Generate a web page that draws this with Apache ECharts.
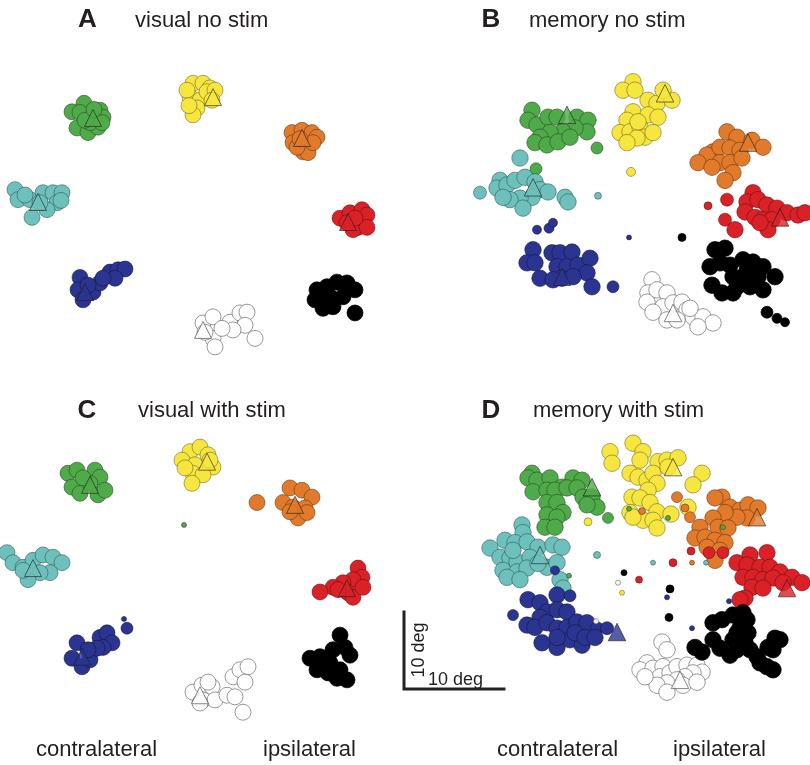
<!DOCTYPE html>
<html><head><meta charset="utf-8">
<script src="https://cdn.jsdelivr.net/npm/echarts@6/dist/echarts.min.js"></script>
<style>html,body{margin:0;padding:0;background:#fff}#c{width:810px;height:765px}</style>
</head><body><div id="c"></div><script>
// Data in degrees: [x, y, optional marker size]
const colorKeys = ['green','yellow','orange','cyan','red','blue','white','black'];

const A_green = [[-11.6,10.6],[-12.8,9.5],[-12.3,7.4],[-11.2,6.8],[-10.0,9.7],[-9.7,8.8],[-10.2,7.5],[-11.0,8.1],[-12.0,9.4],[-11.5,8.4],[-9.8,8.1],[-10.6,9.8]];
const A_yellow = [[-0.7,13.2],[0.3,13.2],[1.0,12.6],[-1.0,11.4],[0,11.0],[-0.3,10.0],[-0.7,9.1],[0.7,12.1],[-1.3,12.3],[1.5,12.3],[1.2,11.0],[-1.1,10.3]];
const A_orange = [[9.2,6.8],[10.2,7.1],[11.2,6.8],[11.7,6.2],[9.3,5.5],[10.3,4.3],[10.8,4.2],[9.7,4.9],[11.3,5.5],[10.0,6.0]];
const A_cyan = [[-18.5,-0.6],[-18.2,-1.9],[-17.0,-1.9],[-15.7,-1.0],[-14.7,-1.0],[-13.8,-1.0],[-14.3,-2.3],[-15.3,-3.2],[-16.8,-4.2],[-16.0,-2.3],[-17.5,-1.3],[-13.9,-2.0]];
const A_red = [[14.0,-4.3],[15.0,-3.6],[16.2,-3.2],[16.7,-3.9],[15.8,-5.5],[15.3,-5.8],[16.7,-5.5],[14.7,-4.9],[15.5,-4.3]];
const A_blue = [[-12.0,-12.0],[-12.2,-13.6],[-11.7,-14.9],[-10.7,-13.9],[-10.0,-12.7],[-9.0,-11.3],[-8.2,-11.0],[-7.5,-10.9],[-8.5,-12.1],[-9.7,-12.1],[-11.2,-13.0]];
const A_white = [[0.3,-17.9],[1.3,-17.1],[3.0,-17.8],[4.0,-16.6],[4.7,-16.5],[4.5,-18.2],[3.3,-18.8],[1.3,-19.9],[1.5,-21.0],[5.5,-19.9],[0.5,-19.1],[2.2,-18.6]];
const A_black = [[11.7,-13.6],[12.7,-13.2],[13.7,-12.6],[14.7,-12.7],[15.5,-13.6],[11.5,-14.9],[12.3,-16.0],[13.3,-15.8],[14.3,-14.5],[15.5,-16.6],[13.0,-14.5]];
const A_targets = [[-10.7,8.7],[1.3,11.4],[10.2,6.1],[-16.2,-2.2],[14.8,-4.8],[-11.5,-13.9],[0.3,-18.8],[13.2,-14.2]];

const B_green = [[-7.1,9.7],[-7.5,8.4],[-6.6,7.8],[-5.5,8.8],[-4.6,8.8],[-2.6,8.8],[-1.5,8.4],[-1.6,6.9],[-2.8,7.4],[-4.0,6.9],[-5.3,6.8],[-6.3,6.2],[-6.8,5.5],[-5.6,5.2],[-4.5,5.6],[-3.3,6.2],[-0.6,4.8,12],[-6.7,2.1,12]];
const B_yellow = [[3.0,13.4],[2.0,12.3],[3.2,12.3],[4.5,11.0],[5.4,10.6],[6.9,11.0],[6.0,12.3],[3.0,9.5],[2.4,8.4],[1.7,6.8],[2.7,6.9],[3.7,7.5],[4.5,9.1],[5.5,8.8],[4.2,6.2],[5.0,6.8],[3.4,6.1],[2.4,5.5],[3.5,8.2],[2.8,1.7,9]];
const B_orange = [[12.4,6.9],[13.4,6.2],[11.0,4.3],[10.4,3.9],[9.5,2.9],[11.7,4.9],[12.7,4.8],[13.7,4.5],[14.9,5.8],[16.0,4.9],[11.7,2.9],[12.7,2.9],[13.9,3.5],[13.0,1.6],[12.2,0.6],[10.9,2.3]];
const B_cyan = [[-12.3,-1.0,13],[-8.3,3.5],[-10.3,0.6],[-10.6,-0.4],[-9.6,0],[-8.8,0.6],[-7.8,1.0],[-6.8,0.4],[-6.3,-0.6],[-5.5,-0.9],[-7.1,-1.6],[-8.3,-1.7],[-9.3,-1.9],[-10.0,-1.6],[-8.0,-3.0],[-3.8,-1.6],[-3.5,-2.2],[-0.5,-1.4,7]];
const B_red = [[15.0,-1.0],[14.4,-2.2],[15.5,-1.9],[16.4,-2.6],[17.4,-3.0],[18.4,-3.6],[19.5,-3.9],[20.2,-3.6],[14.2,-3.5],[15.2,-4.2],[16.0,-4.5],[16.9,-4.5],[16.5,-5.8],[15.7,-4.9],[12.4,-1.9,13],[12.2,-4.5,13],[13.2,-5.8],[10.5,-2.7,8]];
const B_blue = [[-5.0,-4.9,9],[-5.4,-5.6,10],[-6.6,-5.8,9],[-7.0,-8.4],[-7.6,-10.1],[-6.8,-10.1],[-6.3,-12.1],[-5.1,-8.8],[-4.3,-8.8],[-3.1,-8.7],[-4.6,-10.6],[-3.6,-10.6],[-2.5,-10.4],[-1.3,-9.5],[-1.6,-11.4],[-1.1,-13.2],[-4.1,-12.1],[-5.0,-12.3],[-3.0,-11.9],[1.0,-13.2,12],[2.6,-6.8,5]];
const B_white = [[4.9,-12.3],[4.5,-14.0],[4.4,-15.2],[5.4,-13.6],[6.4,-14.0],[6.0,-15.8],[5.0,-16.5],[7.0,-15.3],[7.9,-15.2],[8.4,-16.2],[9.0,-17.1],[10.0,-17.1],[11.0,-17.9],[9.5,-18.4],[6.4,-17.5],[7.4,-17.5],[8.7,-16.0]];
const B_black = [[11.2,-8.4],[12.2,-8.2],[10.7,-10.6],[11.7,-10.1],[12.7,-10.4],[14.0,-9.7],[15.0,-10.0],[16.0,-10.6],[17.2,-11.9],[13.0,-11.9],[14.4,-11.4],[15.5,-11.9],[13.4,-13.2],[14.7,-13.2],[16.0,-13.6],[10.9,-13.0],[11.9,-14.0],[13.0,-14.0],[14.0,-12.0],[15.0,-12.5],[16.4,-16.5,12],[17.4,-17.3,10],[18.2,-17.8,9],[7.9,-6.8,8]];
const B_targets = [[-3.6,9.1],[6.2,11.9],[14.5,5.5],[-7.0,-0.3],[17.7,-4.2],[-4.1,-11.9],[7.0,-16.6],[14.0,-11.0]];

const C_green = [[-13.2,13.2],[-12.3,13.6],[-10.5,13.6],[-10.0,12.7],[-12.8,11.4],[-12.0,10.6],[-11.0,11.9],[-10.2,10.4],[-9.5,11.0],[-11.7,12.6],[-1.6,6.5,5]];
const C_yellow = [[-1.0,16.0],[0,16.6],[0.8,15.6],[-1.8,14.9],[-0.5,14.3],[1.3,14.0],[-0.7,13.2],[0.3,13.0],[-0.8,11.9],[-1.5,13.9],[1.0,14.9]];
const C_orange = [[9.0,11.3],[10.2,11.0],[11.2,10.1],[8.3,9.4],[9.3,8.8],[10.5,8.7],[9.8,7.4],[10.7,8.1],[9.0,8.2],[5.7,9.4]];
const C_cyan = [[-19.3,2.9],[-18.7,1.6],[-17.7,1.0],[-16.7,1.9],[-15.7,2.6],[-14.7,2.3],[-13.8,1.6],[-15.0,0.3],[-16.0,0.3],[-17.2,-0.6],[-17.7,0.6]];
const C_red = [[15.8,0.9],[16.2,-0.3],[15.3,-0.6],[14.3,-1.0],[13.3,-1.6],[12.0,-2.2],[14.8,-2.3],[15.3,-2.9],[16.3,-1.6],[13.8,-1.9]];
const C_blue = [[-12.3,-8.8],[-12.8,-10.8],[-11.8,-11.9],[-11.0,-11.0],[-10.0,-8.1],[-9.3,-7.5],[-8.8,-8.8],[-9.7,-9.4],[-10.3,-9.5],[-11.2,-9.7],[-7.3,-6.9,12],[-7.6,-5.7,5]];
const C_white = [[-0.7,-15.2],[0.2,-14.3],[1.2,-14.5],[0.3,-16.2],[1.5,-16.2],[2.7,-15.6],[3.5,-15.8],[3.3,-13.2],[4.0,-12.3],[4.8,-11.9],[4.5,-13.9],[4.3,-17.8],[0,-16.6],[0.8,-13.9]];
const C_black = [[14.0,-7.8],[14.5,-9.4],[15.0,-10.4],[13.3,-9.7],[11.0,-10.8],[12.0,-10.6],[13.0,-11.4],[11.7,-12.3],[12.8,-12.7],[14.0,-12.3],[14.7,-13.6],[13.7,-13.4]];
const C_targets = [[-11.0,11.7],[0.7,14.7],[9.5,9.1],[-16.7,0.9],[14.7,-1.7],[-11.8,-10.6],[0,-15.6],[12.8,-11.0]];

const D_green = [[-7.1,13.2],[-7.5,12.6],[-6.6,12.3],[-5.3,12.6],[-4.1,11.4],[-3.0,12.6],[-2.1,12.3],[-7.0,10.8],[-5.6,11.0],[-4.8,11.0],[-3.6,11.3],[-2.6,11.3],[-2.0,10.1],[-1.1,10.1],[-0.6,8.8],[-1.6,9.1],[-5.6,9.4],[-4.6,9.4],[-4.0,8.1],[-5.6,7.8],[-4.6,7.5],[-5.8,6.2],[-4.8,6.2],[0.5,7.4,11],[2.6,8.6,5],[6.5,7.4,5],[12.0,6.2,5],[-3.4,-0.1,5]];
const D_yellow = [[3.0,17.1],[4.0,16.0],[0.7,16.0],[0.9,14.5],[3.7,14.9],[5.5,14.7],[6.4,14.9],[7.5,15.2],[9.9,13.2],[2.7,13.2],[3.5,12.7],[4.4,12.3],[5.0,13.2],[5.4,11.9],[4.5,11.0],[2.9,10.1],[3.7,10.0],[4.7,9.4],[5.4,8.2],[2.7,8.1],[4.0,7.1],[5.0,7.1],[5.4,6.1],[3.0,7.5],[9.0,11.7],[8.5,8.8],[6.8,7.9],[6.5,14.0],[-1.5,6.9,8],[1.9,-2.3,5]];
const D_orange = [[7.4,10.1,11],[8.7,7.5,11],[11.9,10.1],[11.2,10.0],[12.7,8.8],[13.7,8.4],[14.5,9.1],[15.5,8.7],[14.4,7.4],[13.4,7.5],[12.2,8.1],[11.0,7.4],[11.5,6.2],[12.5,6.1],[9.7,6.2],[9.2,4.8],[10.2,4.9],[11.2,4.5],[12.2,4.2],[10.4,3.6],[11.7,3.2],[11.2,1.9],[8.2,8.7,8],[3.9,8.3,7],[8.9,1.6,5]];
const D_cyan = [[-8.1,6.5],[-8.0,5.5],[-11.3,3.5],[-9.8,4.5],[-8.8,4.2],[-7.6,4.3],[-6.5,3.6],[-5.0,3.9],[-4.1,3.6],[-10.3,2.3],[-9.3,2.2],[-8.6,1.7],[-7.3,2.3],[-5.6,1.0],[-4.6,1.6],[-10.0,0.6],[-8.6,0.4],[-7.6,0.9],[-9.6,-0.3],[-8.3,-0.6],[-4.3,-0.6],[-4.0,-1.7],[-9.0,3.2],[-6.5,1.5],[-0.6,2.6,7],[5.0,1.6,5],[10.3,1.6,5]];
const D_red = [[13.4,1.6],[14.7,2.6],[16.4,2.9],[14.4,1.3],[15.7,1.0],[16.7,1.0],[17.7,0.4],[18.9,-0.3],[19.9,-1.0],[14.0,-0.3],[15.0,-0.3],[16.0,-0.6],[17.0,-0.4],[18.0,-1.0],[14.9,-1.6],[16.0,-1.7],[14.2,-3.0],[13.7,-3.2],[8.8,3.1,8],[10.6,2.9,12],[12.0,2.9,12],[7.0,1.6,8],[3.6,-0.6,7]];
const D_blue = [[-9.0,-5.2,11],[-7.5,-3.2],[-4.6,-2.6],[-6.3,-3.6],[-5.6,-4.8],[-4.6,-4.5],[-3.6,-4.8],[-6.3,-5.5],[-7.6,-6.5],[-6.8,-6.8],[-5.6,-6.2],[-4.6,-6.9],[-3.6,-6.8],[-2.6,-6.1],[-1.6,-6.2],[-0.6,-6.9,13],[-6.1,-8.8],[-4.6,-9.4],[-3.3,-8.4],[-2.1,-9.1],[-2.8,-7.5],[-1.8,-8.1],[-0.8,-8.1],[-4.6,-8.1],[0.4,-6.9,13],[-4.8,0.6,9],[-3.3,-2.7,12],[6.4,-2.9,5],[8.9,-6.9,5],[12.6,-3.4,5]];
const D_white = [[5.9,-8.7],[6.4,-9.7],[4.4,-11.4],[3.7,-12.3],[5.0,-12.1],[6.0,-11.9],[5.7,-13.2],[6.7,-12.7],[7.4,-11.9],[8.4,-11.7],[9.4,-11.7],[9.9,-12.6],[9.0,-12.7],[8.2,-13.2],[7.4,-13.6],[6.4,-14.0],[5.4,-14.3],[6.4,-15.2],[8.0,-14.3],[9.4,-13.9],[4.2,-13.2],[1.5,-1.0,5],[-0.7,-6.0,5]];
const D_black = [[11.0,-6.2],[11.9,-5.8],[13.0,-5.2],[14.0,-4.9],[14.4,-5.8],[13.7,-6.9],[14.5,-7.5],[14.2,-8.8],[14.7,-9.7],[15.4,-10.6],[15.7,-11.4],[16.4,-11.9],[17.0,-12.3],[16.5,-9.4],[17.2,-8.2],[17.7,-8.4],[17.0,-9.7],[9.2,-9.4],[9.9,-10.0],[11.0,-8.4],[11.7,-9.5],[12.7,-10.4],[13.0,-8.4],[13.4,-7.5],[13.4,-9.7],[2.1,0.3,6],[6.7,-1.8,8],[6.6,-5.5,8]];
const D_targets = [[-1.1,11.4],[7.0,14.0],[15.4,7.5],[-6.3,2.6],[18.4,-1.7],[1.4,-7.4],[7.7,-13.6],[14.0,-8.0]];

const scaleBar = [[-19.9,-4.8],[-19.9,-14.8],[-9.9,-14.8]];

const panelTitles = ['visual no stim','memory no stim','visual with stim','memory with stim'];
const panelLetters = ['A','B','C','D'];
const sideLabels = ['contralateral','ipsilateral'];

// ---- styling / layout ----
const fills = {green:'#4fab49', yellow:'#f6e63f', orange:'#e17a2b', cyan:'#6dc0bb', red:'#da2128', blue:'#2b3591', white:'#ffffff', black:'#000000'};
const borders = {green:'rgba(35,60,30,0.75)', yellow:'rgba(90,80,20,0.7)', orange:'rgba(80,40,10,0.7)', cyan:'rgba(30,70,70,0.7)', red:'rgba(80,10,10,0.7)', blue:'rgba(15,20,60,0.8)', white:'#6d6d6d', black:'#000000'};

const panels = [
  {left:0,   top:0,   size:16, sets:[A_green,A_yellow,A_orange,A_cyan,A_red,A_blue,A_white,A_black], targets:A_targets},
  {left:403, top:0,   size:16.5, sets:[B_green,B_yellow,B_orange,B_cyan,B_red,B_blue,B_white,B_black], targets:B_targets},
  {left:0,   top:390, size:16, sets:[C_green,C_yellow,C_orange,C_cyan,C_red,C_blue,C_white,C_black], targets:C_targets},
  {left:403, top:390, size:16.5, sets:[D_green,D_yellow,D_orange,D_cyan,D_red,D_blue,D_white,D_black], targets:D_targets}
];

const grid = [], xAxis = [], yAxis = [], bigSeries = [], triSeries = [], smallSeries = [];
panels.forEach((p, i) => {
  grid.push({left:p.left, top:p.top, width:400, height:370});
  xAxis.push({gridIndex:i, type:'value', min:-20, max:20, show:false});
  yAxis.push({gridIndex:i, type:'value', min:-24, max:24, show:false});
  p.sets.forEach((set, k) => {
    const c = colorKeys[k];
    const style = {color:fills[c], borderColor:borders[c], borderWidth:0.7, opacity:1};
    const big = set.filter(d => !(d[2] && d[2] <= 9));
    const small = set.filter(d => d[2] && d[2] <= 9);
    const common = {type:'scatter', xAxisIndex:i, yAxisIndex:i, clip:false, silent:true, animation:false, itemStyle:style, emphasis:{disabled:true}};
    bigSeries.push(Object.assign({}, common, {data:big, symbol:'circle', symbolSize: v => v[2] || p.size}));
    if (small.length) smallSeries.push(Object.assign({}, common, {data:small, symbol:'circle', symbolSize: v => v[2]}));
    triSeries.push(Object.assign({}, common, {data:[p.targets[k]], symbol:'triangle', symbolSize:p.size+1,
      itemStyle:{color:fills[c], borderColor: c==='white' ? '#555' : (c==='black' ? '#000' : 'rgba(30,30,30,0.85)'), borderWidth:0.9}}));
  });
});

const scaleSeries = {type:'line', xAxisIndex:3, yAxisIndex:3, data:scaleBar, symbol:'none', silent:true, animation:false,
  lineStyle:{color:'#222', width:3, cap:'square', join:'miter'}};

const FONT = 'Liberation Sans, Arial, Helvetica, sans-serif';
const txt = (text, x, y, size, opts) => Object.assign({type:'text', x, y, silent:true,
  style:Object.assign({text, fontFamily:FONT, fontSize:size, fill:'#231f20', textAlign:'left', textVerticalAlign:'middle', verticalAlign:'middle'}, (opts||{}).style || {})},
  (opts||{}).el || {});

const letterPos = [[87.5,20],[491,19.5],[87,410.5],[491,410.5]];
const titlePos = [[135,20.5],[529,20.5],[138,410.5],[533,410.5]];
const graphics = [];
panelLetters.forEach((L, i) => {
  graphics.push(txt(L, letterPos[i][0], letterPos[i][1], 26, {style:{fontWeight:'bold', textAlign:'center'}}));
  graphics.push(txt(panelTitles[i], titlePos[i][0], titlePos[i][1], 22));
});
graphics.push(txt(sideLabels[0], 36, 750, 22));
graphics.push(txt(sideLabels[1], 263, 750, 22));
graphics.push(txt(sideLabels[0], 497, 750, 22));
graphics.push(txt(sideLabels[1], 673, 750, 22));
graphics.push(txt('10 deg', 428, 680.5, 18));
graphics.push(txt('10 deg', 419, 650, 18, {style:{textAlign:'center'}, el:{rotation:Math.PI/2}}));

const chart = echarts.init(document.getElementById('c'), null, {renderer:'canvas'});
chart.setOption({
  animation:false,
  backgroundColor:'#ffffff',
  grid, xAxis, yAxis,
  series: bigSeries.concat(triSeries, smallSeries, [scaleSeries]),
  graphic: graphics
});
</script></body></html>
